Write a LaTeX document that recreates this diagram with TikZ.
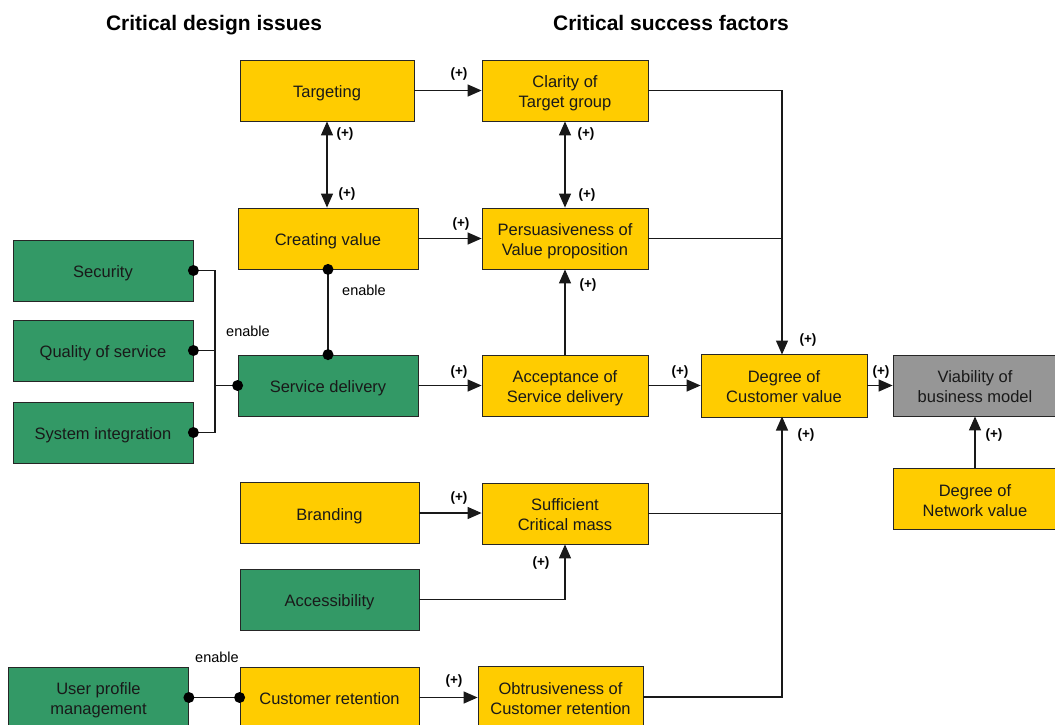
\documentclass[tikz,border=0pt]{standalone}
\usepackage{fontspec}
\setmainfont{Liberation Sans}
\usetikzlibrary{arrows.meta}
\definecolor{ybox}{RGB}{255,204,0}
\definecolor{gbox}{RGB}{51,153,102}
\definecolor{grbox}{RGB}{150,150,150}
\newcommand\bt[1]{\raisebox{-3pt}[\height][\depth]{\begin{tabular}{@{}c@{}}#1\end{tabular}}}
\tikzset{
  box/.style={draw=black!85, line width=0.8pt, inner sep=0pt,
    font=\fontsize{16.5}{20}\selectfont, text=black!90},
  ybx/.style={box, fill=ybox},
  gbx/.style={box, fill=gbox},
  grbx/.style={box, fill=grbox},
  conn/.style={line width=1.3pt, draw=black!90},
  arr/.style={conn, -{Triangle[length=14pt,width=12pt]}},
  darr/.style={conn, {Triangle[length=14pt,width=12pt]}-{Triangle[length=14pt,width=12pt]}},
  plus/.style={font=\fontsize{13.5}{14}\selectfont\bfseries, inner sep=0pt},
  enl/.style={font=\fontsize{14.5}{16}\selectfont, inner sep=0pt},
  hdr/.style={font=\fontsize{21}{24}\selectfont\bfseries, inner sep=0pt, anchor=base},
  dot/.style={circle, fill=black, inner sep=0pt, minimum size=11pt}
}
\begin{document}
\begin{tikzpicture}[x=1pt,y=-1pt]
\useasboundingbox (0,0) rectangle (1055,724);
\clip (0,0) rectangle (1055,724);
% headers
\node[hdr] (h1) at (214,30) {Critical design issues};
\node[hdr] (h2) at (671,30) {Critical success factors};
% boxes
\node[ybx, minimum width=174pt, minimum height=61pt] (tgt) at (327,90.5) {\bt{Targeting}};
\node[ybx, minimum width=166pt, minimum height=61pt] (cla) at (565,90.5) {\bt{Clarity of\\Target group}};
\node[ybx, minimum width=180pt, minimum height=61pt] (cv) at (328,238.5) {\bt{Creating value}};
\node[ybx, minimum width=166pt, minimum height=61pt] (per) at (565,238.5) {\bt{Persuasiveness of\\Value proposition}};
\node[gbx, minimum width=180pt, minimum height=61pt] (sec) at (103,270.5) {\bt{Security}};
\node[gbx, minimum width=180pt, minimum height=61pt] (qos) at (103,350.5) {\bt{Quality of service}};
\node[gbx, minimum width=180pt, minimum height=61pt] (sys) at (103,432.5) {\bt{System integration}};
\node[gbx, minimum width=180pt, minimum height=61pt] (sd) at (328,385.5) {\bt{Service delivery}};
\node[ybx, minimum width=166pt, minimum height=61pt] (acc) at (565,385.5) {\bt{Acceptance of\\Service delivery}};
\node[ybx, minimum width=166pt, minimum height=63pt] (dcv) at (784,385.5) {\bt{Degree of\\Customer value}};
\node[grbx, minimum width=164pt, minimum height=61pt] (via) at (975,385.5) {\bt{Viability of\\business model}};
\node[ybx, minimum width=164pt, minimum height=61pt] (net) at (975,499) {\bt{Degree of\\Network value}};
\node[ybx, minimum width=179pt, minimum height=61pt] (brd) at (329.5,513) {\bt{Branding}};
\node[ybx, minimum width=166pt, minimum height=61pt] (suf) at (565,513.5) {\bt{Sufficient\\Critical mass}};
\node[gbx, minimum width=179pt, minimum height=61pt] (accs) at (329.5,599.5) {\bt{Accessibility}};
\node[gbx, minimum width=180pt, minimum height=61pt] (upm) at (98.5,697.5) {\bt{User profile\\management}};
\node[ybx, minimum width=179pt, minimum height=61pt] (cr) at (329.5,697.5) {\bt{Customer retention}};
\node[ybx, minimum width=165pt, minimum height=62pt] (obt) at (560.5,697) {\bt{Obtrusiveness of\\Customer retention}};
% connectors
\draw[arr] (tgt.east) -- (cla.west);
\draw[darr] (tgt.south) -- (tgt.south |- cv.north);
\draw[darr] (cla.south) -- (per.north);
\draw[arr] (cv.east) -- (cv.east -| per.west);
\draw[conn] (cv.south) -- (cv.south |- sd.north);
\node[dot] (d5) at (cv.south) {};
\node[dot] (d6) at (cv.south |- sd.north) {};
\coordinate (jn) at (215,385.5);
\draw[conn] (sec.east) -| (jn);
\draw[conn] (sys.east) -| (jn);
\draw[conn] (qos.east) -- (qos.east -| jn);
\draw[conn] (jn) -- (sd.west);
\node[dot] (d1) at (sec.east) {};
\node[dot] (d2) at (qos.east) {};
\node[dot] (d3) at (sys.east) {};
\node[dot] (d4) at (sd.west) {};
\draw[arr] (sd.east) -- (acc.west);
\draw[arr] (acc.north) -- (per.south);
\draw[arr] (acc.east) -- (dcv.west);
\draw[arr] (dcv.east) -- (via.west);
\draw[arr] (cla.east) -| (782,354.5);
\draw[conn] (per.east) -- (782,238.5);
\draw[arr] (suf.east) -| (782,416.5);
\draw[conn] (obt.east) -| (782,513.5);
\draw[arr] (brd.east) -- (brd.east -| suf.west);
\draw[arr] (accs.east) -| (suf.south);
\draw[conn] (upm.east) -- (cr.west);
\node[dot] (d7) at (upm.east) {};
\node[dot] (d8) at (cr.west) {};
\draw[arr] (cr.east) -- (cr.east -| obt.west);
\draw[arr] (net.north) -- (via.south);
% labels
\node[plus] (p1) at (459,74.5) {(+)};
\node[plus] (p2) at (345,134) {(+)};
\node[plus] (p3) at (347,194) {(+)};
\node[plus] (p4) at (586,134) {(+)};
\node[plus] (p5) at (587,195) {(+)};
\node[plus] (p6) at (461,224) {(+)};
\node[plus] (p7) at (588,285) {(+)};
\node[plus] (p8) at (459,372) {(+)};
\node[plus] (p9) at (680,372) {(+)};
\node[plus] (p10) at (881,372) {(+)};
\node[plus] (p11) at (808,340) {(+)};
\node[plus] (p12) at (806,435) {(+)};
\node[plus] (p13) at (459,498) {(+)};
\node[plus] (p14) at (541,563) {(+)};
\node[plus] (p15) at (454,681) {(+)};
\node[plus] (p16) at (994,435) {(+)};
\node[enl] (e1) at (364,290) {enable};
\node[enl] (e2) at (248,331) {enable};
\node[enl] (e3) at (217,657) {enable};
\end{tikzpicture}
\end{document}
